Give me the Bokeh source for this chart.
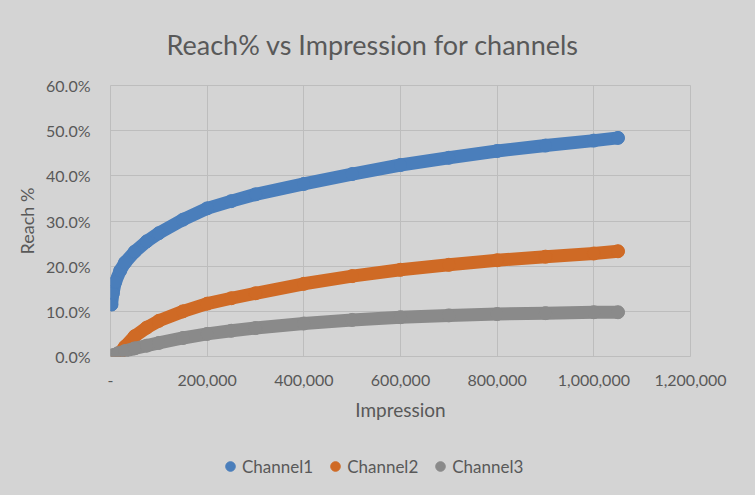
from bokeh.plotting import figure
from bokeh.layouts import column
from bokeh.models import Legend, LegendItem, FixedTicker, NumeralTickFormatter, Range1d
from bokeh.embed import file_html
from bokeh.resources import INLINE
import numpy as np

# ---- data ----
x_ch1 = [2000, 5000, 10000, 20000, 30000, 50000, 75000, 100000, 150000, 200000, 250000,
         300000, 400000, 500000, 600000, 700000, 800000, 900000, 1000000, 1050000]
reach_ch1 = [11.5, 14.0, 16.5, 19.0, 20.8, 23.2, 25.5, 27.3, 30.3, 32.8, 34.4,
             35.9, 38.2, 40.4, 42.4, 44.0, 45.5, 46.7, 47.8, 48.4]

x_ch2 = [15000, 20000, 30000, 50000, 75000, 100000, 150000, 200000, 250000, 300000,
         400000, 500000, 600000, 700000, 800000, 900000, 1000000, 1050000]
reach_ch2 = [0.0, 0.9, 2.2, 4.5, 6.4, 7.9, 10.0, 11.7, 12.9, 14.0,
             16.1, 17.8, 19.2, 20.3, 21.3, 22.1, 22.8, 23.3]

x_ch3 = [5000, 15000, 30000, 50000, 75000, 100000, 150000, 200000, 250000, 300000,
         400000, 500000, 600000, 700000, 800000, 900000, 1000000, 1050000]
reach_ch3 = [0.3, 0.7, 1.2, 1.8, 2.4, 3.0, 4.1, 5.0, 5.7, 6.3,
             7.3, 8.1, 8.7, 9.1, 9.4, 9.6, 9.8, 9.8]

series_names = ["Channel1", "Channel2", "Channel3"]
x_ticks = [0, 200000, 400000, 600000, 800000, 1000000, 1200000]
y_ticks = [0.0, 0.1, 0.2, 0.3, 0.4, 0.5, 0.6]

# ---- style ----
BG = "#d4d4d4"
GRID = "#bdbdbd"
TXT = "#595959"
COLORS = ["#4a7ebb", "#cf6a25", "#8a8a8a"]
FONT = "Lato"

p = figure(width=745, height=440, output_backend="svg", toolbar_location=None,
           x_range=Range1d(0, 1200000), y_range=Range1d(0, 0.6),
           min_border_left=110, min_border_right=55, min_border_top=85, min_border_bottom=84,
           background_fill_color=BG, border_fill_color=BG, outline_line_color=GRID,
           title="Reach% vs Impression for channels")

p.title.text_font = FONT
p.title.text_font_size = "27px"
p.title.text_font_style = "normal"
p.title.text_color = TXT
p.title.align = "left"
p.title.offset = 56
p.title.standoff = 50

for ax in (p.xaxis[0], p.yaxis[0]):
    ax.axis_line_color = None
    ax.major_tick_line_color = None
    ax.minor_tick_line_color = None
    ax.major_label_text_font = FONT
    ax.major_label_text_color = TXT
    ax.axis_label_text_font = FONT
    ax.axis_label_text_font_style = "normal"
    ax.axis_label_text_color = TXT

p.xaxis.ticker = FixedTicker(ticks=x_ticks)
p.xaxis.formatter = NumeralTickFormatter(format="0,0")
p.xaxis.major_label_overrides = {0: "-"}
p.xaxis.major_label_text_font_size = "16px"
p.xaxis.major_label_standoff = 12
p.xaxis.axis_label = "Impression"
p.xaxis.axis_label_text_font_size = "19px"
p.xaxis.axis_label_standoff = 9

p.yaxis.ticker = FixedTicker(ticks=y_ticks)
p.yaxis.formatter = NumeralTickFormatter(format="0.0%")
p.yaxis.major_label_text_font_size = "16px"
p.yaxis.major_label_standoff = 14
p.yaxis.axis_label = "Reach %"
p.yaxis.axis_label_text_font_size = "18px"
p.yaxis.axis_label_standoff = 5

p.xgrid.ticker = FixedTicker(ticks=x_ticks)
p.ygrid.ticker = FixedTicker(ticks=y_ticks)
p.grid.grid_line_color = GRID
p.grid.grid_line_width = 1

for xs, ys, c in zip([x_ch1, x_ch2, x_ch3], [reach_ch1, reach_ch2, reach_ch3], COLORS):
    yf = np.array(ys) / 100.0
    p.line(xs, yf, line_color=c, line_width=13, line_cap="round", line_join="round")
    p.scatter(xs, yf, marker="circle", size=13, fill_color=c, line_color=c)

# ---- legend strip below the chart ----
pl = figure(width=745, height=45, output_backend="svg", toolbar_location=None,
            x_range=Range1d(0, 1), y_range=Range1d(0, 1), x_axis_type=None, y_axis_type=None,
            min_border=0, outline_line_color=None,
            background_fill_color=BG, border_fill_color=BG)
pl.grid.visible = False
items = []
for name, c in zip(series_names, COLORS):
    # legend-only marker, placed outside the visible range
    r = pl.scatter([-5], [-5], marker="circle", size=10, fill_color=c, line_color=c)
    items.append(LegendItem(label=name, renderers=[r]))
legend = Legend(items=items, orientation="horizontal", location=(108, 7),
                padding=0, margin=0, spacing=10, glyph_width=24, glyph_height=24,
                label_standoff=0, label_text_font=FONT, label_text_font_size="17px",
                label_text_color=TXT, background_fill_alpha=0, border_line_color=None)
pl.add_layout(legend)

layout = column(p, pl, spacing=0)
html = file_html(layout, INLINE)
html = html.replace("<head>", "<head><style>html,body{background:#d4d4d4;}</style>", 1)
open("out.html", "w").write(html)
